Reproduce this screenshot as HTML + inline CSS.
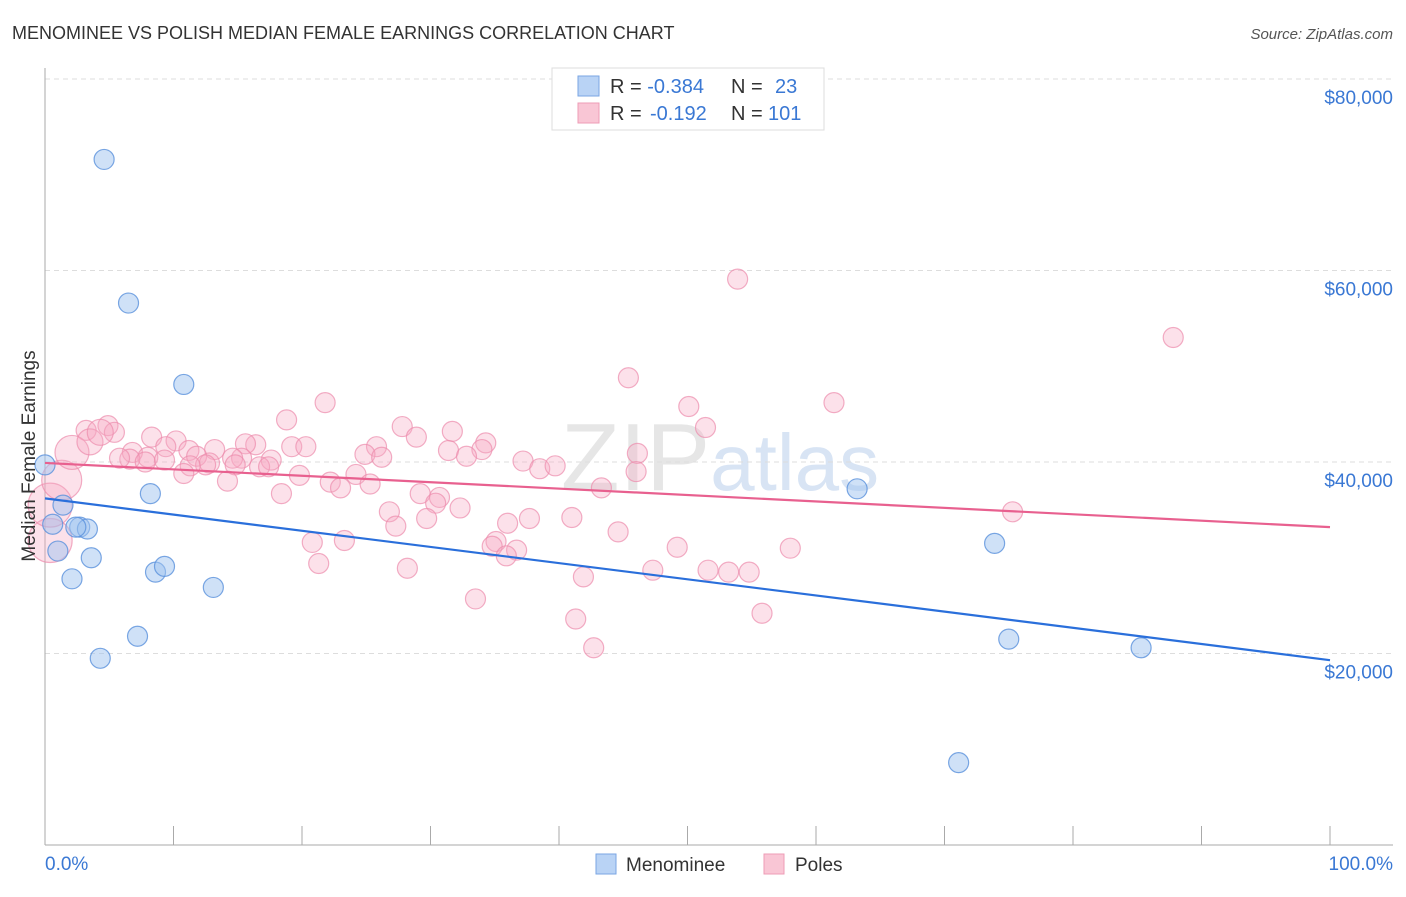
<!DOCTYPE html>
<html><head><meta charset="utf-8"><style>
body{margin:0;background:#fff;font-family:"Liberation Sans",sans-serif}
svg text{font-family:"Liberation Sans",sans-serif}
</style></head><body>
<svg id="chart" width="1406" height="892" viewBox="0 0 1406 892" xmlns="http://www.w3.org/2000/svg">
<text x="12" y="39" font-size="18" fill="#333">MENOMINEE VS POLISH MEDIAN FEMALE EARNINGS CORRELATION CHART</text>
<text x="1393" y="39" font-size="15" fill="#555" text-anchor="end" font-style="italic">Source: ZipAtlas.com</text>
<text x="720" y="490" font-size="96" fill="#e4e4e4" text-anchor="middle" font-family="Liberation Serif"><tspan fill="#e6e6e6">ZIP</tspan><tspan font-family="Liberation Sans" font-size="80" fill="#d8e4f4">atlas</tspan></text>
<g id="grid"></g>
<g id="axes"></g>
<g id="pts"></g>
<g id="trends"></g>
<text x="35" y="456" font-size="19" fill="#333" text-anchor="middle" transform="rotate(-90 35 456)">Median Female Earnings</text>
<text x="45" y="870" font-size="19" fill="#3a78d4">0.0%</text>
<text x="1393" y="870" font-size="19" fill="#3a78d4" text-anchor="end">100.0%</text>
<g>
<rect x="552" y="68" width="272" height="62" fill="#fff" stroke="#ddd"/>
<rect x="578" y="76" width="21" height="20" fill="#b9d3f5" stroke="#7aa6e3"/>
<rect x="578" y="103" width="21" height="20" fill="#f9c6d5" stroke="#ee9cb6"/>
<text x="610" y="93" font-size="20" fill="#333">R = <tspan fill="#3a78d4">-0.384</tspan><tspan x="731">N = </tspan><tspan x="775" fill="#3a78d4">23</tspan></text>
<text x="610" y="120" font-size="20" fill="#333">R = <tspan x="650" fill="#3a78d4">-0.192</tspan><tspan x="731">N = </tspan><tspan x="768" fill="#3a78d4">101</tspan></text>
</g>
<g>
<rect x="596" y="854" width="20" height="20" fill="#b9d3f5" stroke="#7aa6e3"/>
<text x="626" y="871" font-size="19" fill="#333">Menominee</text>
<rect x="764" y="854" width="20" height="20" fill="#f9c6d5" stroke="#ee9cb6"/>
<text x="795" y="871" font-size="19" fill="#333">Poles</text>
</g>
</svg>
<script>
const yTicks=[20000,40000,60000,80000];
const yTickLabels=["$20,000","$40,000","$60,000","$80,000"];
const xTicks=[0,10,20,30,40,50,60,70,80,90,100];
const menomineeX=[0,4.6,6.5,10.8,8.2,1.4,0.6,2.7,3.3,1.0,3.6,2.1,8.6,9.3,13.1,7.2,4.3,63.2,73.9,75.0,85.3,71.1,2.4];
const menomineeY=[39.7,71.6,56.6,48.1,36.7,35.5,33.5,33.2,33.0,30.7,30.0,27.8,28.5,29.1,26.9,21.8,19.5,37.2,31.5,21.5,20.6,8.6,33.2];
const polesX=[53.9,87.8,45.4,21.8,61.4,50.1,18.8,27.8,51.4,4.9,3.2,5.4,31.7,28.9,10.2,8.3,34.3,16.4,15.6,19.2,20.3,25.8,34.0,9.4,11.2,6.8,8.0,6.6,5.8,13.2,24.9,26.2,31.4,32.8,46.1,11.8,17.6,15.3,14.6,12.8,14.8,12.5,11.3,16.7,17.4,37.2,38.5,39.7,7.8,10.8,19.8,24.2,14.2,22.2,23.0,46.0,25.3,43.3,29.2,18.4,30.7,30.4,26.8,32.3,29.7,37.7,41.0,36.0,27.3,75.3,44.6,20.8,23.3,35.1,34.8,36.7,35.9,49.2,58.0,21.3,28.2,47.3,51.6,53.2,54.8,41.9,33.5,55.8,41.3,42.7,0.4,0.4,1.3,2.1,3.5,4.3,9.3];
const polesY=[59.1,53.0,48.8,46.2,46.2,45.8,44.4,43.7,43.6,43.8,43.3,43.1,43.2,42.6,42.2,42.6,42.0,41.8,41.9,41.6,41.6,41.6,41.3,41.6,41.2,41.0,40.5,40.3,40.4,41.3,40.8,40.5,41.2,40.6,40.9,40.6,40.2,40.4,40.4,39.9,39.7,39.7,39.6,39.5,39.5,40.1,39.3,39.6,40.0,38.8,38.6,38.7,38.0,37.9,37.3,39.0,37.7,37.3,36.7,36.7,36.3,35.7,34.8,35.2,34.1,34.1,34.2,33.6,33.3,34.8,32.7,31.6,31.8,31.7,31.2,30.8,30.2,31.1,31.0,29.4,28.9,28.7,28.7,28.5,28.5,28.0,25.7,24.2,23.6,20.6,31.8,35.5,38.1,41.0,42.1,43.1,40.2];
const polesSize=[1,1,1,1,1,1,1,1,1,1,1,1,1,1,1,1,1,1,1,1,1,1,1,1,1,1,1,1,1,1,1,1,1,1,1,1,1,1,1,1,1,1,1,1,1,1,1,1,1,1,1,1,1,1,1,1,1,1,1,1,1,1,1,1,1,1,1,1,1,1,1,1,1,1,1,1,1,1,1,1,1,1,1,1,1,1,1,1,1,1,2.2,2.2,2.0,1.7,1.3,1.3,1];
const menomineeTrend=[36.2,19.3];
const polesTrend=[39.9,33.2];
const NS="http://www.w3.org/2000/svg";
const X0=45,X1=1330,Y0=845,PXK=191.5/20;
const sx=v=>X0+(X1-X0)*v/100;
const sy=k=>Y0-k*PXK;
function mk(tag,attrs,parent){const e=document.createElementNS(NS,tag);for(const k in attrs)e.setAttribute(k,attrs[k]);parent.appendChild(e);return e;}
const grid=document.getElementById('grid'),axes=document.getElementById('axes'),pts=document.getElementById('pts'),tr=document.getElementById('trends');
yTicks.forEach((t,i)=>{const y=sy(t/1000);
const l=mk('line',{x1:45,x2:1393,y1:y,y2:y,stroke:'#ddd','stroke-dasharray':'5,4'},grid);


const tx=mk('text',{x:1393,y:y+25,'font-size':19,fill:'#3a78d4','text-anchor':'end'},axes);tx.textContent=yTickLabels[i];

});
const ax=mk('line',{x1:45,x2:1393,y1:Y0,y2:Y0,stroke:'#aaa'},axes);


const ay=mk('line',{x1:45,x2:45,y1:68,y2:Y0,stroke:'#aaa'},axes);


xTicks.forEach(t=>{const x=sx(t);const l=mk('line',{x1:x,x2:x,y1:826,y2:Y0,stroke:'#aaa'},axes);

});
polesX.forEach((v,i)=>{const c=mk('circle',{cx:sx(v),cy:sy(polesY[i]),r:10*polesSize[i],fill:'rgba(246,170,195,0.35)',stroke:'rgba(236,140,172,0.7)','stroke-width':1.2},pts);

});
menomineeX.forEach((v,i)=>{const c=mk('circle',{cx:sx(v),cy:sy(menomineeY[i]),r:10,fill:'rgba(160,196,240,0.5)',stroke:'rgba(90,145,220,0.8)','stroke-width':1.2},pts);

});
const lb=mk('line',{x1:sx(0),x2:sx(100),y1:sy(menomineeTrend[0]),y2:sy(menomineeTrend[1]),stroke:'#2a6fdb','stroke-width':2.2},tr);


const lp=mk('line',{x1:sx(0),x2:sx(100),y1:sy(polesTrend[0]),y2:sy(polesTrend[1]),stroke:'#e8608f','stroke-width':2.2},tr);


</script>
</body></html>
